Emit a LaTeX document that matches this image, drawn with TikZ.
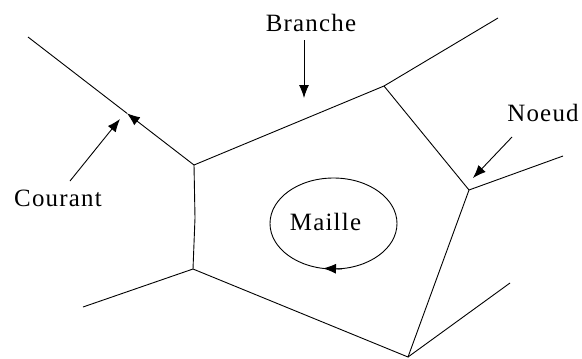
\documentclass[tikz,border=0pt]{standalone}
\usepackage{fontspec}
\setmainfont{Liberation Serif}
\usetikzlibrary{arrows.meta,calc}
\begin{document}
\begin{tikzpicture}[x=1bp,y=-1bp,
  wire/.style={line width=0.9bp,black},
  tipped/.style={wire,-{Latex[length=13bp,width=10bp]}},
  lbl/.style={font=\fontsize{25}{28}\selectfont\addfontfeature{LetterSpace=5},
              inner sep=0pt,anchor=base}]
\useasboundingbox (0,0) rectangle (582,358);

% junctions of the network
\coordinate (A) at (194,165);
\coordinate (B) at (384,86);
\coordinate (C) at (469,190);
\coordinate (D) at (408,357);
\coordinate (E) at (193,269);
\coordinate (K) at (195,218);

% free ends of the outer branches
\coordinate (LA) at (28,37);
\coordinate (LB) at (498,18);
\coordinate (LC) at (563,156);
\coordinate (LD) at (510,283);
\coordinate (LE) at (83,307);

% the mesh
\draw[wire] (A) -- (B) -- (C) -- (D) -- (E) -- (K) -- (A);

% outer branches
\coordinate (IA) at ($(A)!0.404!(LA)$);
\draw[tipped] (A) -- (IA);
\draw[wire] (IA) -- (LA);
\draw[wire] (B) -- (LB);
\draw[wire] (C) -- (LC);
\draw[wire] (D) -- (LD);
\draw[wire] (E) -- (LE);

% the loop and its direction
\draw[wire] (333.5,223.5) ellipse [x radius=63.5, y radius=45.5];
\coordinate (M1) at (342,268.9);
\coordinate (M2) at (323,268.4);
\draw[tipped] (M1) -- (M2);

% labels
\node[lbl] (courant) at (58,206) {Courant};
\node[lbl] (branche) at (311,31) {Branche};
\node[lbl] (noeud) at (543,121) {Noeud};
\node[lbl] (maille) at (325.5,230) {Maille};

% pointers from labels
\coordinate (pc0) at (70,181);
\coordinate (pc1) at (120,119);
\draw[tipped] (pc0) -- (pc1);
\coordinate (pb0) at (304,40);
\coordinate (pb1) at (304,98);
\draw[tipped] (pb0) -- (pb1);
\coordinate (pn0) at (512,137);
\coordinate (pn1) at (473,178);
\draw[tipped] (pn0) -- (pn1);
\end{tikzpicture}
\end{document}
